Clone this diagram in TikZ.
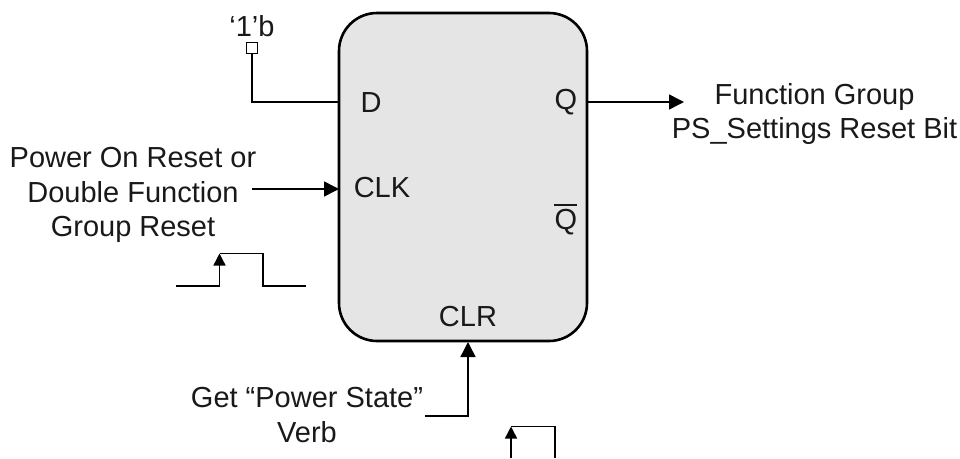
\documentclass[tikz,border=0pt]{standalone}
\usepackage{fontspec}
\setmainfont{Liberation Sans}
\usetikzlibrary{arrows.meta}
\tikzset{
  lbl/.style={inner sep=0pt,outer sep=0pt,font=\fontsize{29}{34.7}\selectfont,text=black!90,align=center},
  wire/.style={line width=1.5pt,black},
  bighead/.style={wire,-{Triangle[length=15pt,width=15pt]}},
  smallhead/.style={line width=1.4pt,-{Triangle[length=12pt,width=12pt]}},
  plain/.style={line width=1.4pt,black},
}
\begin{document}
\begin{tikzpicture}[x=1pt,y=-1pt]
\useasboundingbox (0,0) rectangle (960,458);
\node[draw=black,line width=2.6pt,fill=black!10,rounded corners=38pt,minimum width=248pt,minimum height=328pt,inner sep=0pt,outer sep=0pt] (ff) at (463,177) {};
\node[lbl] (d) at (371,102.5) {D};
\node[lbl] (q) at (566,102.5) {Q};
\node[lbl] (clk) at (382,188) {CLK};
\node[lbl] (qbar) at (566,222) {Q};
\coordinate (qbl) at (554,205);
\coordinate (qbr) at (577,205);
\draw[line width=1.3pt,black!90] (qbl) -- (qbr);
\node[lbl] (clr) at (468,317) {CLR};
\node[lbl] (one) at (252,26) {‘1’b};
\node[lbl] (fg) at (814.5,114) {Function Group\\PS\_Settings Reset Bit};
\node[lbl] (por) at (133,195) {Power On Reset or\\Double Function\\Group Reset};
\node[lbl] (gps) at (307,415) {Get “Power State”\\Verb};
\node[draw=black,line width=1.3pt,fill=white,minimum size=11pt,inner sep=0pt,outer sep=0pt] (sq) at (252,48) {};
\coordinate (dbend) at (252,102);
\coordinate (dend) at (ff.west |- dbend);
\draw[wire] (sq.south) -- (dbend) -- (dend);
\coordinate (qs) at (ff.east |- 0,102);
\coordinate (qe) at (684,102);
\draw[bighead] (qs) -- (qe);
\coordinate (cs) at (252,189);
\coordinate (ce) at (ff.west |- cs);
\draw[bighead] (cs) -- (ce);
\coordinate (rs) at (425,416);
\coordinate (rb) at (468,416);
\coordinate (re) at (468,342);
\draw[bighead] (rs) -- (rb) -- (re);
% clock pulse
\coordinate (p1) at (176,286);
\coordinate (p2) at (219.5,286);
\coordinate (p3) at (219.5,253.5);
\coordinate (p4) at (263,253.5);
\coordinate (p5) at (263,286);
\coordinate (p6) at (306,286);
\draw[plain] (p3) -- (p4) -- (p5) -- (p6);
\draw[smallhead] (p1) -- (p2) -- (p3);
% clear pulse
\coordinate (c1) at (511,458);
\coordinate (c2) at (511,426.5);
\coordinate (c3) at (555,426.5);
\coordinate (c4) at (555,458);
\draw[plain] (c2) -- (c3) -- (c4);
\draw[smallhead] (c1) -- (c2);
\end{tikzpicture}
\end{document}
